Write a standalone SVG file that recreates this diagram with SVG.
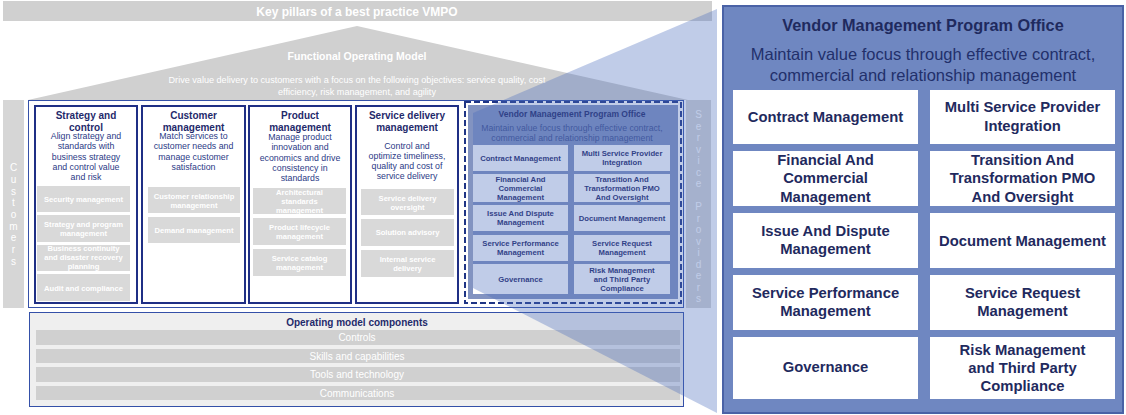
<svg xmlns="http://www.w3.org/2000/svg" width="1126" height="415" viewBox="0 0 1126 415">
  <style>
    text { font-family: "Liberation Sans", Arial, sans-serif; }
    .banner { fill: #d0d0d0; }
    .side { fill: #d6d6d6; }
    .sideTxt { fill: #ffffff; font-size: 10px; text-anchor: middle; }
    .white-b { fill: #ffffff; font-weight: bold; text-anchor: middle; }
    .white { fill: #ffffff; text-anchor: middle; }
    .col { fill: #ffffff; stroke: #1f2f85; stroke-width: 2; }
    .colTitle { fill: #1f2a6b; font-weight: bold; font-size: 10px; text-anchor: middle; }
    .colDesc { fill: #2b3a86; font-size: 8.8px; text-anchor: middle; }
    .gbox { fill: #d9d9d9; }
    .gTxt { fill: #ffffff; font-weight: bold; font-size: 7.6px; text-anchor: middle; }
    .vbox { fill: #ffffff; }
    .vTxt { fill: #1f2a6b; font-weight: bold; font-size: 7.7px; text-anchor: middle; }
    .bar { fill: #d0d0d0; }
    .barTxt { fill: #ffffff; font-size: 10px; text-anchor: middle; }
    .bigBox { fill: #ffffff; }
    .bigTxt { fill: #1f2a5e; font-weight: bold; font-size: 14.8px; text-anchor: middle; }
  </style>

  <!-- Header banner -->
  <g id="header">
    <rect class="banner" x="3" y="1" width="709" height="20"/>
    <text class="white-b" x="357" y="15.5" font-size="12">Key pillars of a best practice VMPO</text>
  </g>

  <!-- Roof: functional operating model -->
  <g id="roof">
    <polygon class="banner" points="357,26 28,100 688,100"/>
    <text class="white-b" x="357" y="60" font-size="10.5">Functional Operating Model</text>
    <text class="white" x="357" y="83" font-size="9.1">Drive value delivery to customers with a focus on the following objectives: service quality, cost</text>
    <text class="white" x="357" y="95" font-size="9.1">efficiency, risk management, and agility</text>
  </g>

  <!-- Customers side bar -->
  <g id="customers">
    <rect class="side" x="3" y="100" width="21" height="208"/>
    <text class="sideTxt" x="13.5" y="171">C</text>
    <text class="sideTxt" x="13.5" y="183">u</text>
    <text class="sideTxt" x="13.5" y="195">s</text>
    <text class="sideTxt" x="13.5" y="206">t</text>
    <text class="sideTxt" x="13.5" y="218">o</text>
    <text class="sideTxt" x="13.5" y="230">m</text>
    <text class="sideTxt" x="13.5" y="241">e</text>
    <text class="sideTxt" x="13.5" y="253">r</text>
    <text class="sideTxt" x="13.5" y="265">s</text>
  </g>

  <!-- Service providers side bar -->
  <g id="service-providers">
    <rect class="side" x="686" y="100" width="25" height="208"/>
    <text class="sideTxt" x="698.5" y="118">S</text>
    <text class="sideTxt" x="698.5" y="129.5">e</text>
    <text class="sideTxt" x="698.5" y="141">r</text>
    <text class="sideTxt" x="698.5" y="152.5">v</text>
    <text class="sideTxt" x="698.5" y="164">i</text>
    <text class="sideTxt" x="698.5" y="175.5">c</text>
    <text class="sideTxt" x="698.5" y="187">e</text>
    <text class="sideTxt" x="698.5" y="210">P</text>
    <text class="sideTxt" x="698.5" y="221.5">r</text>
    <text class="sideTxt" x="698.5" y="233">o</text>
    <text class="sideTxt" x="698.5" y="244.5">v</text>
    <text class="sideTxt" x="698.5" y="256">i</text>
    <text class="sideTxt" x="698.5" y="267.5">d</text>
    <text class="sideTxt" x="698.5" y="279">e</text>
    <text class="sideTxt" x="698.5" y="290.5">r</text>
    <text class="sideTxt" x="698.5" y="302">s</text>
  </g>

  <!-- Frame around the functional columns -->
  <g id="functions-frame">
    <rect x="28.5" y="100.5" width="655" height="207" fill="#ffffff" stroke="#3450a8" stroke-width="1"/>
  </g>

  <!-- Column: Strategy and control -->
  <g id="strategy-control">
    <rect class="col" x="35" y="106" width="102" height="197"/>
    <text class="colTitle" x="86" y="119">Strategy and</text>
    <text class="colTitle" x="86" y="131">control</text>
    <text class="colDesc" x="86" y="139">Align strategy and</text>
    <text class="colDesc" x="86" y="149">standards with</text>
    <text class="colDesc" x="86" y="160">business strategy</text>
    <text class="colDesc" x="86" y="170">and control value</text>
    <text class="colDesc" x="86" y="180">and risk</text>
    <rect class="gbox" x="37" y="186" width="93" height="26"/>
    <text class="gTxt" x="83.5" y="202">Security management</text>
    <rect class="gbox" x="37" y="215" width="93" height="27"/>
    <text class="gTxt" x="83.5" y="227">Strategy and program</text>
    <text class="gTxt" x="83.5" y="236">management</text>
    <rect class="gbox" x="37" y="245" width="93" height="26"/>
    <text class="gTxt" x="83.5" y="251">Business continuity</text>
    <text class="gTxt" x="83.5" y="260">and disaster recovery</text>
    <text class="gTxt" x="83.5" y="269">planning</text>
    <rect class="gbox" x="37" y="274" width="93" height="27"/>
    <text class="gTxt" x="83.5" y="290.5">Audit and compliance</text>
  </g>

  <!-- Column: Customer management -->
  <g id="customer-management">
    <rect class="col" x="142" y="106" width="103" height="197"/>
    <text class="colTitle" x="193.5" y="119">Customer</text>
    <text class="colTitle" x="193.5" y="131">management</text>
    <text class="colDesc" x="193.5" y="139">Match services to</text>
    <text class="colDesc" x="193.5" y="149">customer needs and</text>
    <text class="colDesc" x="193.5" y="160">manage customer</text>
    <text class="colDesc" x="193.5" y="170">satisfaction</text>
    <rect class="gbox" x="148" y="187" width="92" height="26"/>
    <text class="gTxt" x="194" y="198.5">Customer relationship</text>
    <text class="gTxt" x="194" y="207.5">management</text>
    <rect class="gbox" x="148" y="217" width="92" height="26"/>
    <text class="gTxt" x="194" y="233">Demand management</text>
  </g>

  <!-- Column: Product management -->
  <g id="product-management">
    <rect class="col" x="249" y="106" width="102" height="197"/>
    <text class="colTitle" x="300" y="119">Product</text>
    <text class="colTitle" x="300" y="131">management</text>
    <text class="colDesc" x="300" y="140">Manage product</text>
    <text class="colDesc" x="300" y="150">innovation and</text>
    <text class="colDesc" x="300" y="161">economics and drive</text>
    <text class="colDesc" x="300" y="171">consistency in</text>
    <text class="colDesc" x="300" y="181">standards</text>
    <rect class="gbox" x="253" y="188" width="93" height="26"/>
    <text class="gTxt" x="299.5" y="194.5">Architectural</text>
    <text class="gTxt" x="299.5" y="203.5">standards</text>
    <text class="gTxt" x="299.5" y="212.5">management</text>
    <rect class="gbox" x="253" y="218" width="93" height="27"/>
    <text class="gTxt" x="299.5" y="229.5">Product lifecycle</text>
    <text class="gTxt" x="299.5" y="238.5">management</text>
    <rect class="gbox" x="253" y="249" width="93" height="27"/>
    <text class="gTxt" x="299.5" y="260.5">Service catalog</text>
    <text class="gTxt" x="299.5" y="269.5">management</text>
  </g>

  <!-- Column: Service delivery management -->
  <g id="service-delivery">
    <rect class="col" x="356" y="106" width="102" height="197"/>
    <text class="colTitle" x="407" y="119">Service delivery</text>
    <text class="colTitle" x="407" y="131">management</text>
    <text class="colDesc" x="407" y="149">Control and</text>
    <text class="colDesc" x="407" y="159">optimize timeliness,</text>
    <text class="colDesc" x="407" y="169">quality and cost of</text>
    <text class="colDesc" x="407" y="179">service delivery</text>
    <rect class="gbox" x="361" y="189" width="93" height="26"/>
    <text class="gTxt" x="407.5" y="200.5">Service delivery</text>
    <text class="gTxt" x="407.5" y="209.5">oversight</text>
    <rect class="gbox" x="361" y="219" width="93" height="27"/>
    <text class="gTxt" x="407.5" y="235">Solution advisory</text>
    <rect class="gbox" x="361" y="250" width="93" height="27"/>
    <text class="gTxt" x="407.5" y="261.5">Internal service</text>
    <text class="gTxt" x="407.5" y="270.5">delivery</text>
  </g>

  <!-- Column: Vendor Management Program Office (summary) -->
  <g id="vmpo-small">
    <rect x="465" y="102" width="216" height="201" fill="#ffffff" stroke="#1f3585" stroke-width="2" stroke-dasharray="6 3"/>
    <rect x="468" y="105" width="210" height="194" fill="#8293c1"/>
    <text x="572" y="117" font-size="8.5" font-weight="bold" fill="#1f2a6b" text-anchor="middle">Vendor Management Program Office</text>
    <text x="572" y="131" font-size="8.7" fill="#3d4f8f" text-anchor="middle">Maintain value focus through effective contract,</text>
    <text x="572" y="141" font-size="8.7" fill="#3d4f8f" text-anchor="middle">commercial and relationship management</text>
    <rect class="vbox" x="473" y="145" width="95" height="26"/>
    <text class="vTxt" x="520.5" y="161">Contract Management</text>
    <rect class="vbox" x="574" y="145" width="96" height="26"/>
    <text class="vTxt" x="622" y="156">Multi Service Provider</text>
    <text class="vTxt" x="622" y="165">Integration</text>
    <rect class="vbox" x="473" y="174" width="95" height="28"/>
    <text class="vTxt" x="520.5" y="182">Financial And</text>
    <text class="vTxt" x="520.5" y="191">Commercial</text>
    <text class="vTxt" x="520.5" y="200">Management</text>
    <rect class="vbox" x="574" y="174" width="96" height="28"/>
    <text class="vTxt" x="622" y="182">Transition And</text>
    <text class="vTxt" x="622" y="191">Transformation PMO</text>
    <text class="vTxt" x="622" y="200">And Oversight</text>
    <rect class="vbox" x="473" y="205" width="95" height="26"/>
    <text class="vTxt" x="520.5" y="216">Issue And Dispute</text>
    <text class="vTxt" x="520.5" y="225">Management</text>
    <rect class="vbox" x="574" y="205" width="96" height="26"/>
    <text class="vTxt" x="622" y="221">Document Management</text>
    <rect class="vbox" x="473" y="235" width="95" height="26"/>
    <text class="vTxt" x="520.5" y="246">Service Performance</text>
    <text class="vTxt" x="520.5" y="255">Management</text>
    <rect class="vbox" x="574" y="235" width="96" height="26"/>
    <text class="vTxt" x="622" y="246">Service Request</text>
    <text class="vTxt" x="622" y="255">Management</text>
    <rect class="vbox" x="473" y="264" width="95" height="30"/>
    <text class="vTxt" x="520.5" y="282">Governance</text>
    <rect class="vbox" x="574" y="264" width="96" height="30"/>
    <text class="vTxt" x="622" y="272.5">Risk Management</text>
    <text class="vTxt" x="622" y="281.5">and Third Party</text>
    <text class="vTxt" x="622" y="290.5">Compliance</text>
  </g>

  <!-- Operating model components -->
  <g id="operating-components">
    <rect x="29.5" y="312.5" width="654" height="94" fill="#efefef" stroke="#3450a8" stroke-width="1"/>
    <text x="357" y="325.5" font-size="10" font-weight="bold" fill="#1f2a6b" text-anchor="middle">Operating model components</text>
    <rect class="bar" x="36" y="330" width="644" height="15"/>
    <text class="barTxt" x="357" y="341">Controls</text>
    <rect class="bar" x="36" y="349" width="644" height="14"/>
    <text class="barTxt" x="357" y="360">Skills and capabilities</text>
    <rect class="bar" x="36" y="367" width="644" height="15"/>
    <text class="barTxt" x="357" y="378">Tools and technology</text>
    <rect class="bar" x="36" y="386" width="644" height="14"/>
    <text class="barTxt" x="357" y="397">Communications</text>
  </g>

  <!-- Projection from the summary column to the detail panel -->
  <g id="connectors">
    <polygon points="473,113 717,9 717,413 473,288" fill="#4b6ebe" fill-opacity="0.35"/>
  </g>

  <!-- Detail panel: Vendor Management Program Office -->
  <g id="vmpo-detail">
    <rect x="723" y="6" width="400" height="407" fill="#6f87c1" stroke="#4a62a6" stroke-width="2"/>
    <text x="923" y="31" font-size="16.3" font-weight="bold" fill="#1f2a5e" text-anchor="middle">Vendor Management Program Office</text>
    <text x="923" y="60" font-size="16.5" fill="#22306b" text-anchor="middle">Maintain value focus through effective contract,</text>
    <text x="923" y="81" font-size="16.5" fill="#22306b" text-anchor="middle">commercial and relationship management</text>

    <rect class="bigBox" x="733" y="90" width="185" height="54"/>
    <text class="bigTxt" x="825.5" y="122">Contract Management</text>
    <rect class="bigBox" x="930" y="90" width="185" height="54"/>
    <text class="bigTxt" x="1022.5" y="112">Multi Service Provider</text>
    <text class="bigTxt" x="1022.5" y="131">Integration</text>

    <rect class="bigBox" x="733" y="151" width="185" height="55"/>
    <text class="bigTxt" x="825.5" y="165">Financial And</text>
    <text class="bigTxt" x="825.5" y="183">Commercial</text>
    <text class="bigTxt" x="825.5" y="202">Management</text>
    <rect class="bigBox" x="930" y="151" width="185" height="55"/>
    <text class="bigTxt" x="1022.5" y="165">Transition And</text>
    <text class="bigTxt" x="1022.5" y="183">Transformation PMO</text>
    <text class="bigTxt" x="1022.5" y="202">And Oversight</text>

    <rect class="bigBox" x="733" y="213" width="185" height="55"/>
    <text class="bigTxt" x="825.5" y="236">Issue And Dispute</text>
    <text class="bigTxt" x="825.5" y="254">Management</text>
    <rect class="bigBox" x="930" y="213" width="185" height="55"/>
    <text class="bigTxt" x="1022.5" y="246">Document Management</text>

    <rect class="bigBox" x="733" y="275" width="185" height="55"/>
    <text class="bigTxt" x="825.5" y="298">Service Performance</text>
    <text class="bigTxt" x="825.5" y="316">Management</text>
    <rect class="bigBox" x="930" y="275" width="185" height="55"/>
    <text class="bigTxt" x="1022.5" y="298">Service Request</text>
    <text class="bigTxt" x="1022.5" y="316">Management</text>

    <rect class="bigBox" x="733" y="337" width="185" height="62"/>
    <text class="bigTxt" x="825.5" y="372">Governance</text>
    <rect class="bigBox" x="930" y="337" width="185" height="62"/>
    <text class="bigTxt" x="1022.5" y="355">Risk Management</text>
    <text class="bigTxt" x="1022.5" y="373">and Third Party</text>
    <text class="bigTxt" x="1022.5" y="391">Compliance</text>
  </g>
</svg>
